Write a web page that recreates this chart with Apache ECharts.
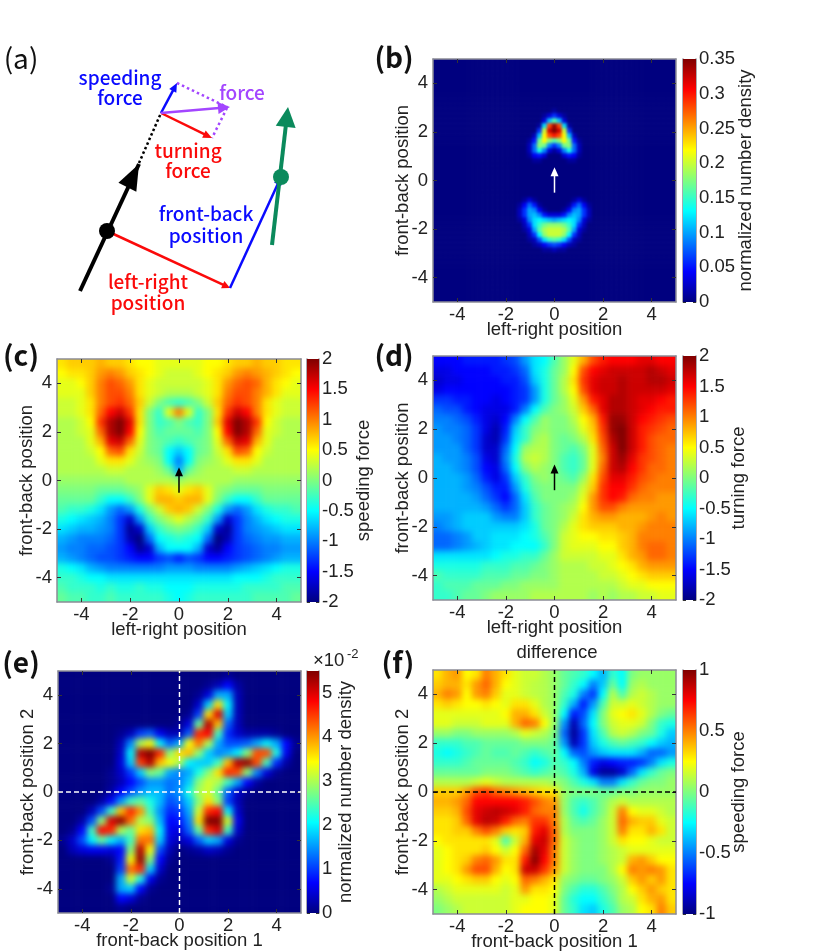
<!DOCTYPE html>
<html><head><meta charset="utf-8">
<style>html,body{margin:0;padding:0;background:#fff}#c{width:830px;height:952px}</style>
<script src="https://cdn.jsdelivr.net/npm/echarts@6/dist/echarts.min.js"></script>
</head><body><div id="c"></div>
<script>
// ---------- data (rows run from the top of each panel to the bottom, columns left to right) ----------
const densityUpperRows = [ // panel b, y = 2.8 .. 0.8 step 0.2, x = -1.2 .. 1.2 step 0.2, unit 0.01
[0,0,0,0,0,0,1,0,0,0,0,0,0],
[0,0,0,0,1,3,6,3,1,0,0,0,0],
[0,0,0,0,3,11,16,11,3,0,0,0,0],
[0,0,0,1,12,28,34,28,12,1,0,0,0],
[0,0,0,6,20,32,35,32,20,6,0,0,0],
[0,0,2,11,22,28,30,28,22,11,2,0,0],
[0,1,5,17,22,18,16,18,22,17,5,1,0],
[0,2,8,18,17,9,6,9,17,18,8,2,0],
[0,2,8,14,9,3,1,3,9,14,8,2,0],
[0,1,4,5,3,0,0,0,3,5,4,1,0],
[0,0,1,1,0,0,0,0,0,1,1,0,0]];
const densityLowerRows = [ // panel b, y = -0.8 .. -2.8 step 0.2, x = -1.6 .. 1.6 step 0.2, unit 0.01
[0,0,1,3,1,0,0,0,0,0,0,0,1,3,1,0,0],
[0,1,4,8,5,1,0,0,0,0,0,1,5,8,4,1,0],
[0,2,6,10,9,4,1,0,0,0,1,4,9,10,6,2,0],
[0,2,6,10,11,9,5,3,3,3,5,9,11,10,6,2,0],
[0,1,3,9,12,13,12,11,10,11,12,13,12,9,3,1,0],
[0,0,2,6,12,15,17,18,18,18,17,15,12,6,2,0,0],
[0,0,1,3,10,16,19,20,20,20,19,16,10,3,1,0,0],
[0,0,0,2,6,13,18,20,20,20,18,13,6,2,0,0,0],
[0,0,0,1,2,7,12,15,16,15,12,7,2,1,0,0,0],
[0,0,0,0,1,2,4,6,7,6,4,2,1,0,0,0,0],
[0,0,0,0,0,0,1,1,2,1,1,0,0,0,0,0,0]];
const speedingRows = [ // panel c, unit 0.1
[6,7,7,7,8,7,7,6,5,5,4,4,4,4,4,5,5,6,7,7,8,7,7,6,6],
[5,6,6,7,9,10,9,7,6,5,4,3,3,3,4,5,6,7,9,10,9,8,7,6,5],
[4,4,5,7,10,12,11,9,6,4,3,3,3,3,3,4,6,9,11,12,11,8,6,5,4],
[4,4,4,7,10,12,12,10,6,4,3,2,2,2,3,4,6,10,12,12,10,8,6,4,4],
[3,3,4,6,10,12,13,11,7,3,0,-2,-3,-2,0,3,7,11,13,12,10,6,4,3,3],
[3,3,4,6,11,15,17,13,6,0,-3,4,10,4,-3,0,6,13,17,15,10,6,4,3,3],
[2,2,3,5,13,18,20,16,6,0,-3,-2,0,-2,-3,0,7,16,20,18,13,5,3,2,2],
[2,2,3,4,11,18,20,15,5,0,-2,-1,-1,-1,-2,0,5,15,20,18,11,4,3,2,2],
[2,2,2,4,8,16,17,11,4,0,-1,-2,-3,-2,-1,0,4,11,17,16,8,4,2,2,2],
[2,2,2,3,5,11,12,6,3,0,-1,-5,-7,-5,-1,0,3,6,12,11,5,3,2,2,2],
[2,2,2,2,4,6,6,4,2,1,0,-5,-10,-5,0,1,2,4,6,6,4,2,2,2,2],
[2,2,2,2,2,3,3,2,2,2,1,-1,-8,-1,1,2,2,2,3,3,2,2,2,2,2],
[1,1,1,1,1,1,1,2,2,2,2,2,1,2,2,2,2,2,1,1,1,1,1,1,1],
[0,0,0,0,-1,-1,-1,0,1,4,7,6,4,6,7,4,1,0,-1,-1,-1,0,0,0,0],
[-1,-1,-1,-1,-3,-5,-5,-3,0,4,8,8,7,8,8,4,0,-3,-5,-5,-3,-1,-1,-1,-1],
[-2,-3,-3,-4,-6,-9,-11,-9,-4,0,3,7,8,7,3,0,-4,-9,-11,-9,-6,-4,-3,-3,-2],
[-4,-5,-6,-7,-8,-10,-13,-17,-9,-3,0,2,4,2,0,-3,-9,-17,-13,-10,-8,-6,-5,-4,-4],
[-6,-7,-8,-8,-9,-10,-13,-19,-17,-7,-3,-1,0,-1,-3,-7,-17,-19,-13,-10,-9,-8,-7,-6,-6],
[-8,-9,-10,-10,-10,-11,-13,-18,-20,-11,-5,-4,-3,-4,-5,-11,-20,-18,-13,-11,-10,-9,-9,-8,-8],
[-9,-10,-10,-11,-11,-12,-13,-15,-19,-17,-8,-5,-5,-5,-8,-17,-19,-15,-13,-12,-11,-10,-10,-9,-9],
[-8,-9,-10,-11,-12,-12,-13,-14,-15,-15,-13,-12,-14,-12,-13,-15,-15,-14,-13,-12,-11,-10,-9,-8,-8],
[-4,-5,-6,-8,-9,-10,-10,-10,-10,-10,-10,-9,-9,-9,-10,-10,-10,-10,-9,-8,-7,-6,-5,-4,-4],
[-3,-3,-4,-5,-5,-6,-6,-6,-6,-6,-6,-6,-6,-6,-6,-6,-6,-6,-5,-5,-5,-4,-3,-3,-3],
[-2,-3,-3,-3,-4,-3,-4,-4,-3,-4,-4,-5,-5,-5,-4,-4,-4,-4,-4,-3,-3,-3,-3,-2,-2],
[-1,-2,-2,-3,-3,-2,-3,-3,-3,-3,-3,-4,-5,-4,-3,-3,-3,-3,-3,-3,-2,-2,-2,-2,-1]];
const turningRows = [ // panel d, unit 0.1
[-15,-15,-15,-14,-14,-14,-14,-13,-12,-9,-6,-5,-2,1,4,8,12,14,15,15,15,16,16,15,15],
[-16,-16,-15,-15,-15,-15,-14,-14,-13,-11,-6,-4,-1,1,5,12,15,16,17,17,17,17,18,17,16],
[-17,-16,-16,-15,-15,-15,-15,-14,-14,-12,-7,-4,-1,2,6,13,16,17,17,18,17,17,18,18,17],
[-16,-15,-15,-15,-15,-15,-15,-15,-14,-13,-9,-4,-1,2,5,12,16,17,17,18,17,17,17,17,16],
[-13,-13,-14,-14,-15,-15,-16,-15,-14,-13,-9,-4,-1,1,4,9,14,16,18,18,17,16,16,15,14],
[-11,-12,-12,-14,-15,-16,-16,-16,-14,-10,-5,-2,0,1,3,7,11,16,18,18,17,16,15,14,14],
[-10,-10,-11,-12,-14,-16,-17,-15,-10,-5,-2,1,0,0,2,5,8,14,19,19,17,15,14,13,12],
[-9,-10,-10,-11,-13,-16,-18,-14,-7,-3,0,1,0,0,1,4,7,13,19,20,17,14,13,12,11],
[-9,-9,-10,-11,-13,-17,-18,-13,-6,-3,1,2,0,-1,0,2,6,12,18,20,17,14,12,11,11],
[-9,-9,-9,-11,-13,-17,-17,-11,-5,1,2,2,0,-1,-2,0,4,11,17,20,17,14,12,11,10],
[-8,-9,-9,-10,-12,-16,-17,-10,-4,2,3,2,0,-2,-3,-1,4,10,17,19,16,13,12,11,10],
[-8,-8,-9,-10,-12,-15,-16,-11,-5,0,2,1,0,-2,-3,-1,4,11,17,18,15,13,11,11,10],
[-8,-8,-8,-9,-11,-14,-16,-13,-7,-3,0,1,0,-1,-2,1,6,12,16,16,14,12,11,10,10],
[-8,-8,-8,-9,-10,-12,-14,-14,-9,-4,-1,0,0,0,0,3,7,13,15,15,13,11,10,10,10],
[-8,-8,-8,-8,-9,-11,-13,-15,-11,-6,-2,0,0,0,1,4,9,13,15,14,11,10,10,9,9],
[-8,-8,-8,-8,-8,-9,-11,-13,-11,-7,-3,-1,0,1,2,5,9,12,12,10,9,9,9,9,9],
[-9,-9,-8,-7,-7,-7,-9,-10,-10,-7,-3,-1,0,1,3,6,8,9,9,8,8,8,9,10,9],
[-10,-9,-8,-7,-7,-7,-7,-7,-7,-6,-4,-1,0,2,4,6,7,7,7,8,8,9,10,10,10],
[-11,-11,-10,-9,-7,-7,-6,-6,-6,-5,-4,-2,0,3,4,5,5,6,6,7,8,10,10,10,10],
[-11,-11,-10,-9,-8,-7,-6,-6,-5,-5,-5,-3,0,3,4,4,4,5,5,7,8,10,11,11,10],
[-6,-6,-6,-6,-6,-6,-5,-4,-4,-3,-3,-1,1,3,3,3,3,4,4,6,8,9,11,11,10],
[-4,-4,-4,-4,-4,-3,-3,-3,-2,-2,-1,0,1,2,2,2,3,3,4,5,6,8,9,9,9],
[-2,-3,-3,-3,-3,-2,-2,-2,-1,-1,0,0,1,2,2,2,2,3,3,4,5,6,7,7,7],
[-3,-2,-2,-2,-1,-1,-1,0,0,1,1,1,1,2,2,2,2,2,2,3,4,4,5,5,5],
[-3,-3,-2,-1,-1,0,1,1,1,1,2,2,2,2,2,2,1,2,1,2,2,3,3,4,4]];
const pairDensityRows = [ // panel e, unit 0.001
[0,0,0,0,0,0,0,0,0,0,0,0,0,0,0,0,0,1,0,0,0,0,0,0,0],
[0,0,0,0,0,0,0,0,0,0,0,0,0,0,0,1,3,7,2,0,0,0,0,0,0],
[0,0,0,0,0,0,0,0,0,0,0,0,0,0,1,5,16,16,3,0,0,0,0,0,0],
[0,0,0,0,0,0,0,0,0,0,0,0,0,0,4,18,36,20,3,0,0,0,0,0,0],
[0,0,0,0,0,0,0,0,0,0,0,0,0,1,10,36,50,18,3,0,0,0,0,0,0],
[0,0,0,0,0,0,0,0,0,0,0,0,1,5,26,52,38,12,3,0,0,0,0,0,0],
[0,0,0,0,0,0,1,3,10,12,6,3,3,12,46,48,24,9,4,2,2,2,1,0,0],
[0,0,0,0,0,0,3,14,30,34,20,12,16,34,42,30,16,11,11,12,16,20,16,7,1],
[0,0,0,0,0,0,4,20,52,55,46,28,36,38,28,18,14,16,20,28,44,44,22,6,0],
[0,0,0,0,0,0,5,18,45,52,38,34,30,20,18,18,24,38,52,54,44,24,9,2,0],
[0,0,0,0,0,1,4,10,18,28,26,16,14,16,22,28,36,46,44,28,14,5,1,0,0],
[0,0,0,0,0,1,3,7,11,15,15,13,14,18,28,32,30,24,16,7,2,0,0,0,0],
[0,0,0,0,0,2,7,11,15,17,17,13,15,22,30,32,26,12,4,1,0,0,0,0,0],
[0,0,0,0,2,7,15,24,26,22,17,11,13,18,28,36,28,10,3,0,0,0,0,0,0],
[0,0,0,3,11,24,38,46,40,24,15,9,10,16,32,46,48,20,4,0,0,0,0,0,0],
[0,0,2,11,28,50,54,42,30,28,17,7,8,14,36,55,55,32,6,0,0,0,0,0,0],
[0,1,7,24,48,46,30,26,36,38,20,6,5,12,26,46,50,24,4,0,0,0,0,0,0],
[1,4,11,20,26,20,16,24,42,42,18,5,3,5,12,18,16,5,1,0,0,0,0,0,0],
[0,3,5,6,6,5,7,28,52,34,11,3,0,1,2,4,3,1,0,0,0,0,0,0,0],
[0,0,0,0,0,1,8,34,54,28,7,1,0,0,0,0,0,0,0,0,0,0,0,0,0],
[0,0,0,0,0,0,10,42,46,18,4,0,0,0,0,0,0,0,0,0,0,0,0,0,0],
[0,0,0,0,0,0,16,32,22,6,1,0,0,0,0,0,0,0,0,0,0,0,0,0,0],
[0,0,0,0,0,1,16,18,7,1,0,0,0,0,0,0,0,0,0,0,0,0,0,0,0],
[0,0,0,0,0,0,7,5,1,0,0,0,0,0,0,0,0,0,0,0,0,0,0,0,0],
[0,0,0,0,0,0,1,0,0,0,0,0,0,0,0,0,0,0,0,0,0,0,0,0,0]];
const differenceRows = [ // panel f, unit 0.01
[30,40,45,25,30,50,40,30,20,15,15,10,5,-5,-10,-15,-25,-40,-15,-25,0,5,5,5,5],
[35,40,40,30,45,55,40,25,20,15,12,10,5,-5,-15,-25,-50,-35,-5,-25,5,10,5,5,5],
[40,50,45,25,45,50,35,20,20,15,12,10,5,-10,-20,-50,-65,-25,10,-10,10,15,10,5,5],
[30,35,30,25,25,30,25,20,30,30,20,10,5,-15,-40,-70,-45,-10,15,15,20,15,10,5,5],
[20,20,20,20,20,20,20,25,40,40,30,15,5,-25,-70,-60,-30,0,20,25,30,20,10,0,-5],
[20,20,15,15,15,20,20,20,40,55,50,25,5,-45,-90,-55,-25,0,15,20,20,15,0,-15,-20],
[5,5,0,0,5,5,5,5,10,20,15,10,0,-55,-95,-65,-30,-10,10,15,10,0,-5,-20,-35],
[-15,-15,-15,-10,-10,-5,-5,-5,-5,0,0,0,-5,-45,-90,-65,-35,-20,-10,-5,-10,-15,-25,-35,-40],
[-20,-25,-20,-15,-10,-5,-10,-10,-5,-10,-15,-10,-5,-25,-55,-60,-45,-35,-30,-30,-30,-40,-55,-55,-45],
[-15,-15,-15,-10,-5,-5,-5,-5,-10,-15,-25,-20,-10,-15,-25,-50,-70,-80,-75,-70,-70,-65,-50,-30,-20],
[-5,-5,-5,-5,-5,0,0,0,-5,-10,-15,-10,-5,-10,-20,-40,-80,-95,-95,-85,-55,-30,-15,-5,0],
[10,10,10,10,15,20,15,10,10,10,10,10,5,0,-10,-20,-30,-50,-50,-30,-15,-5,0,0,5],
[35,35,35,45,60,65,55,50,45,40,35,30,30,5,0,0,0,-5,-5,0,0,5,5,5,5],
[40,40,45,55,75,75,75,75,75,70,60,50,45,5,-10,-15,-10,0,10,15,10,10,10,10,10],
[35,35,40,60,80,85,88,85,80,70,55,50,50,5,-10,-22,-10,0,15,50,25,20,20,15,10],
[30,30,35,55,80,88,85,70,55,50,65,65,50,10,-5,-10,-5,5,15,55,40,35,35,20,15],
[30,30,35,35,50,60,50,35,30,35,70,80,55,10,0,0,0,5,15,50,30,30,40,30,15],
[25,30,30,30,30,30,20,-10,15,40,80,85,55,15,5,0,0,5,15,30,25,25,20,15,15],
[20,25,30,30,30,35,25,15,25,55,92,80,50,15,5,0,0,5,10,15,20,20,20,20,20],
[20,25,30,35,50,55,45,30,30,70,98,75,50,15,5,0,0,5,10,15,40,45,35,25,25],
[20,25,30,45,60,60,40,25,30,85,85,65,45,15,5,0,0,0,10,25,50,45,50,45,30],
[20,20,25,30,35,35,25,20,25,55,50,40,30,5,0,-5,-5,0,5,15,35,45,35,45,30],
[10,15,20,20,20,20,20,15,20,45,30,30,25,0,-10,-18,-18,-10,0,10,25,35,45,35,30],
[5,10,15,15,15,15,15,15,20,20,25,25,20,-5,-18,-25,-25,-15,-5,10,15,30,40,45,30],
[0,5,10,15,15,15,15,15,20,25,25,25,20,-5,-15,-30,-35,-20,-10,5,10,25,30,50,35]];
const axisTickValues = [-4,-2,0,2,4];
const pairBarTicks = [0,1,2,3,4,5];
const headingArrow = [[0,-0.5,0,0.55]];
const crossLines = [[-5,0,5,0],[0,-5,0,5]];
const jetColors = ['#00007f','#0000ff','#007fff','#00ffff','#7fff7f','#ffff00','#ff7f00','#ff0000','#7f0000'];
// schematic (a): x1,y1,x2,y2 in the schematic's own coordinate space
const BLUE='#0a0aff', RED='#fb0a0a', PURPLE='#a346ff', GREEN='#0b8a5c', BLACK='#000';
const schematicSegments = [
 {p:[80,291,139,164],c:BLACK,w:4,head:[0,0]},
 {p:[126,190,139,164],c:BLACK,w:1,head:[26,20]},
 {p:[139,163,161,113],c:BLACK,w:2.5,dash:[2.5,2.5],head:[0,0]},
 {p:[177,83,227,107],c:PURPLE,w:2.5,dash:[2.5,3],head:[0,0]},
 {p:[227,108,212,138],c:PURPLE,w:2.5,dash:[2.5,3],head:[0,0]},
 {p:[161,113,177,83],c:BLUE,w:2.5,head:[9,8]},
 {p:[161,113,212,138],c:RED,w:2.5,head:[9,8]},
 {p:[161,113,230,107],c:PURPLE,w:2.5,head:[12,12]},
 {p:[107,231,230,288],c:RED,w:2.5,head:[8,8]},
 {p:[230,288,281,177],c:BLUE,w:2.5,head:[8,8]},
 {p:[272,245,288,107],c:GREEN,w:4,head:[20,20]}];
const schematicDots = [[107,231,'#000'],[281,177,GREEN]];
const schematicLabels = [
 ['speeding',120,78,BLUE],['force',120,98,BLUE],['force',242,93,PURPLE],
 ['turning',188,151,RED],['force',188,171,RED],
 ['front-back',206,214,BLUE],['position',206,236,BLUE],
 ['left-right',148,282,RED],['position',148,303,RED]];
const panelLetters = [['(a)',21,58,'normal'],['(b)',394,57,'bold'],['(c)',21,355,'bold'],['(d)',394,355,'bold'],['(e)',21,662,'bold'],['(f)',398,662,'bold']];

// ---------- build ----------
const FONT='"Liberation Sans", Arial, sans-serif', UIFONT='"Noto Sans CJK JP","Noto Sans",sans-serif', TXT='#222', FRAME='#8c8c96', FS=18.5;
const opt={animation:false,backgroundColor:'#fff',grid:[],xAxis:[],yAxis:[],series:[],visualMap:[],graphic:[]};
function arrowRender(items){return function(params,api){
  const a=api.coord([api.value(0),api.value(1)]),b=api.coord([api.value(2),api.value(3)]);
  const s=items[params.dataIndex];const dx=b[0]-a[0],dy=b[1]-a[1],L=Math.hypot(dx,dy),ux=dx/L,uy=dy/L;
  const hl=s.head[0],hw=s.head[1]/2;const end=[b[0]-ux*hl*0.9,b[1]-uy*hl*0.9];
  const ch=[{type:'line',shape:{x1:a[0],y1:a[1],x2:end[0],y2:end[1]},style:{stroke:s.c,lineWidth:s.w,lineDash:s.dash||null}}];
  if(hl>0){const bx=b[0]-ux*hl,by=b[1]-uy*hl;ch.push({type:'polygon',shape:{points:[b,[bx-uy*hw,by+ux*hw],[bx+uy*hw,by-ux*hw]]},style:{fill:s.c}});}
  return{type:'group',children:ch};
};}
const clipRects={'-1':[],'-2':[]};
function panel(o){
  const gi=opt.grid.length, w=o.r-o.l, h=o.b-o.t, n=o.rows.length, pad=o.pad;
  const px=w/n*pad, py=h/n*pad;
  // heat-map grid runs past the frame by a few repeated edge cells so the soft layer stays opaque up to the frame
  opt.grid.push({left:o.l-px,top:o.t-py,width:w+2*px,height:h+2*py});
  opt.grid.push({left:o.l,top:o.t,width:w,height:h});
  opt.grid.push({left:o.cl,top:o.t,width:o.cr-o.cl,height:h});
  const N=n+2*pad, idx=Array.from({length:N},(_,i)=>i);
  opt.xAxis.push({type:'category',gridIndex:gi,data:idx,show:false});
  opt.yAxis.push({type:'category',gridIndex:gi,data:idx,show:false});
  const hx=opt.xAxis.length-1,hy=opt.yAxis.length-1;
  const line={show:true,onZero:false,lineStyle:{color:FRAME,width:1.5}};
  const tick={show:true,inside:true,length:4,customValues:axisTickValues,lineStyle:{color:'#333',width:1}};
  const nm={fontFamily:FONT,fontSize:FS,color:TXT};
  const lab={show:true,customValues:axisTickValues,fontFamily:FONT,fontSize:FS,color:TXT,margin:3};
  const val={type:'value',gridIndex:gi+1,min:-5,max:5,axisLine:line,axisTick:tick,splitLine:{show:false},nameMoveOverlap:false};
  const xi=opt.xAxis.length,yi=opt.yAxis.length;
  opt.xAxis.push({...val,position:'bottom',axisLabel:lab,name:o.xname,nameLocation:'middle',nameGap:18,nameTextStyle:nm});
  opt.xAxis.push({...val,position:'top',axisLabel:{show:false}});
  opt.yAxis.push({...val,position:'left',axisLabel:{...lab,margin:5},name:o.yname,nameLocation:'middle',nameGap:21,nameTextStyle:nm});
  opt.yAxis.push({...val,position:'right',axisLabel:{show:false}});
  // colour bar
  const cxi=opt.xAxis.length,cyi=opt.yAxis.length;
  const cbar={type:'value',gridIndex:gi+2,min:o.min,max:o.max,axisLine:line,splitLine:{show:false},nameMoveOverlap:false};
  if(o.cticks===undefined)cbar.interval=o.step;
  const ctick={show:true,inside:true,length:3,lineStyle:{color:'#333'}};if(o.cticks)ctick.customValues=o.cticks;
  const clab={fontFamily:FONT,fontSize:FS,color:TXT,margin:3,formatter:v=>String(+(+v).toFixed(2))};if(o.cticks)clab.customValues=o.cticks;
  opt.xAxis.push({type:'value',gridIndex:gi+2,min:0,max:1,show:false});
  opt.yAxis.push({...cbar,position:'right',axisTick:ctick,axisLabel:clab,name:o.cname,nameLocation:'middle',nameRotate:90,nameGap:o.cgap,nameTextStyle:nm});
  opt.yAxis.push({...cbar,position:'left',axisTick:ctick,axisLabel:{show:false}});
  // heat map
  const cl=(v)=>Math.max(0,Math.min(n-1,v)), data=[];
  for(let y=-pad;y<n+pad;y++)for(let x=-pad;x<n+pad;x++)
    data.push([x+pad,n-1-y+pad,+(o.rows[cl(y)][cl(x)]*o.k).toFixed(4)]);
  const si=opt.series.length;
  opt.series.push({type:'heatmap',xAxisIndex:hx,yAxisIndex:hy,data,progressive:0,zlevel:o.layer,silent:true,itemStyle:{borderWidth:0},emphasis:{disabled:true}});
  opt.visualMap.push({type:'continuous',show:false,seriesIndex:si,dimension:2,min:o.min,max:o.max,inRange:{color:jetColors}});
  clipRects[o.layer].push(`M${o.l} ${o.t}H${o.r}V${o.b}H${o.l}Z`);
  opt.series.push({type:'custom',xAxisIndex:cxi,yAxisIndex:cyi,clip:false,data:[[o.min,o.max]],z:1,silent:true,
    renderItem:(p,api)=>{const a=api.coord([0,api.value(0)]),b=api.coord([1,api.value(1)]);
      return{type:'rect',shape:{x:a[0],y:b[1],width:b[0]-a[0],height:a[1]-b[1]},
        style:{fill:new echarts.graphic.LinearGradient(0,1,0,0,jetColors.map((q,i)=>({offset:i/(jetColors.length-1),color:q})))}};}});
  if(o.arrow){const it=[{c:o.arrow,w:1.5,head:[9,8]}];
    opt.series.push({type:'custom',xAxisIndex:xi,yAxisIndex:yi,data:headingArrow,z:5,silent:true,renderItem:arrowRender(it)});}
  if(o.cross){crossLines.forEach(s=>opt.series.push({type:'line',xAxisIndex:xi,yAxisIndex:yi,symbol:'none',silent:true,z:5,data:[[s[0],s[1]],[s[2],s[3]]],lineStyle:{color:o.cross,width:1.5,type:[5,3]}}));}
}
// panel b: zero everywhere except the two dense arcs
function bMatrix(){const M=Array.from({length:49},()=>new Array(49).fill(0));
  densityUpperRows.forEach((r,ri)=>r.forEach((v,ci)=>{M[10+ri][18+ci]=v;}));
  densityLowerRows.forEach((r,ri)=>r.forEach((v,ci)=>{M[28+ri][16+ci]=v;}));return M;}
panel({l:433,r:676,t:59,b:302,cl:683,cr:696,rows:bMatrix(),k:0.01,pad:4,layer:-2,min:0,max:0.35,step:0.05,xname:'left-right position',yname:'front-back position',cname:'normalized number density',cgap:40,arrow:'#fff'});
panel({l:57,r:301,t:359,b:602,cl:307,cr:319,rows:speedingRows,k:0.1,pad:2,layer:-1,min:-2,max:2,step:0.5,xname:'left-right position',yname:'front-back position',cname:'speeding force',cgap:35,arrow:'#000'});
panel({l:433,r:676,t:356,b:600,cl:683,cr:696,rows:turningRows,k:0.1,pad:2,layer:-1,min:-2,max:2,step:0.5,xname:'left-right position',yname:'front-back position',cname:'turning force',cgap:33,arrow:'#000'});
panel({l:58,r:301,t:671,b:913,cl:307,cr:319,rows:pairDensityRows,k:0.1,pad:2,layer:-1,min:0,max:5.5,cticks:pairBarTicks,xname:'front-back position 1',yname:'front-back position 2',cname:'normalized number density',cgap:17,cross:'#fff'});
panel({l:433,r:676,t:670,b:914,cl:683,cr:696,rows:differenceRows,k:0.01,pad:2,layer:-1,min:-1,max:1,step:0.5,xname:'front-back position 1',yname:'front-back position 2',cname:'speeding force',cgap:33,cross:'#000'});

// schematic grid (a)
const sg=opt.grid.length;opt.grid.push({left:0,top:0,width:370,height:330,show:false});
const sx=opt.xAxis.length,sy=opt.yAxis.length;
opt.xAxis.push({type:'value',gridIndex:sg,min:0,max:370,show:false});
opt.yAxis.push({type:'value',gridIndex:sg,min:0,max:330,inverse:true,show:false});
opt.series.push({type:'custom',xAxisIndex:sx,yAxisIndex:sy,clip:false,silent:true,z:3,data:schematicSegments.map(s=>s.p),renderItem:arrowRender(schematicSegments)});
opt.series.push({type:'scatter',xAxisIndex:sx,yAxisIndex:sy,silent:true,z:4,symbolSize:16,data:schematicDots.map(d=>({value:[d[0],d[1]],itemStyle:{color:d[2],opacity:1}}))});
schematicLabels.forEach(t=>opt.graphic.push({type:'text',x:t[1],y:t[2],style:{text:t[0],fill:t[3],font:'500 19px '+UIFONT,textAlign:'center',textVerticalAlign:'middle'}}));
panelLetters.forEach(t=>opt.graphic.push({type:'text',x:t[1],y:t[2],style:{text:t[0],fill:'#111',font:t[3]+' 28px '+UIFONT,textAlign:'center',textVerticalAlign:'middle'}}));
opt.graphic.push({type:'text',x:557,y:653,style:{text:'difference',fill:TXT,font:FS+'px '+FONT,textAlign:'center',textVerticalAlign:'middle'}});
opt.graphic.push({type:'text',x:313,y:661,style:{text:'×10',fill:TXT,font:'18.5px '+FONT,textAlign:'left',textVerticalAlign:'middle'}});
opt.graphic.push({type:'text',x:347,y:654,style:{text:'-2',fill:TXT,font:'13px '+FONT,textAlign:'left',textVerticalAlign:'middle'}});
const chart=echarts.init(document.getElementById('c'));chart.setOption(opt);
// soften the cell edges of the heat-map layers and keep them inside their frames
const soft={'-1':'blur(3px)','-2':'blur(1.6px)'};
function applySoft(){Object.keys(soft).forEach(z=>{const cv=document.querySelector(`canvas[data-zr-dom-id="zr_${z}"]`);
  if(cv){cv.style.filter=soft[z];cv.style.clipPath=`path('${clipRects[z].join(' ')}')`;}});}
applySoft();chart.on('finished',applySoft);
</script></body></html>
